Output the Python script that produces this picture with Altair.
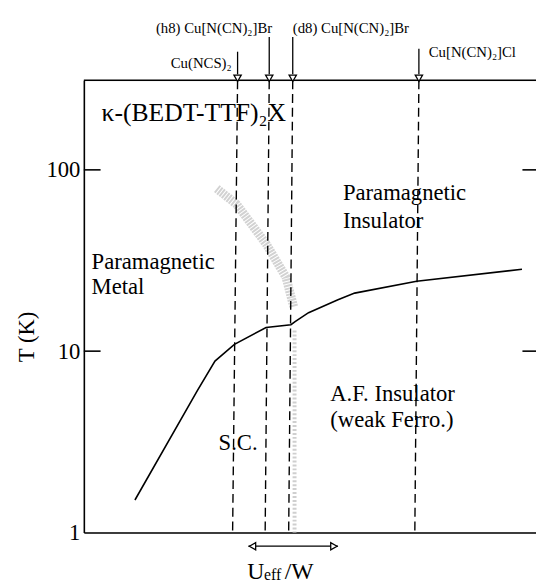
import altair as alt
import pandas as pd

# ---------------- data ----------------
# T_N / T_c boundary (x: Ueff/W in arbitrary units 0..100, T in K)
curve_u = [11.3, 25.1, 29.0, 33.3, 40.3, 45.8, 46.8, 49.7, 56.2, 59.9, 73.6, 96.9]
curve_T = [1.51, 6.06, 8.82, 10.9, 13.5, 14.0, 14.6, 16.3, 19.2, 20.9, 24.3, 28.3]
# metal-insulator crossover (grey hatched band)
band_u = [29.4, 33.8, 40.3, 44.7, 46.4]
band_T = [78.8, 64.5, 39.1, 25.6, 17.6]
low_band_u = [46.6, 46.6]
low_band_T = [13.0, 1.0]
# salts (dashed lines)
salts = ["Cu(NCS)₂", "(h8) Cu[N(CN)₂]Br", "(d8) Cu[N(CN)₂]Br", "Cu[N(CN)₂]Cl"]
salt_u_top = [34.0, 41.0, 46.2, 74.1]
salt_u_bot = [32.9, 40.1, 45.3, 73.2]
# phase labels
phase_text = ["κ-(BEDT-TTF)₂X", "Paramagnetic", "Insulator", "Paramagnetic", "Metal",
              "A.F. Insulator", "(weak Ferro.)", "S.C."]
phase_u = [3.9, 57.3, 57.3, 1.7, 1.7, 54.5, 54.5, 29.8]
phase_T = [206, 74.1, 52.2, 30.9, 22.6, 5.77, 4.17, 3.12]
y_ticks = [1, 10, 100]
inner_ticks = [10, 100]
T_MIN, T_MAX = 1, 312
U_MIN, U_MAX = 0, 100
arrow_u = [36.4, 56.2]

# ---------------- layout / style ----------------
W, H = 459, 459
FONT = "Liberation Serif, Times New Roman, DejaVu Serif, serif"
salt_arrow_top = [-29, -44, -44, -32]
salt_label_y = [-17, -53, -53, -29]
salt_label_align = ["right", "right", "left", "left"]
salt_label_dx = [-6, 3, 0, 10]

xs = alt.Scale(domain=[U_MIN, U_MAX], nice=False, zero=False)
ys = alt.Scale(type="log", domain=[T_MIN, T_MAX], nice=False)

curve_df = pd.DataFrame({"u": curve_u, "T": curve_T})
band_df = pd.DataFrame({"u": band_u, "T": band_T})
low_df = pd.DataFrame({"u": low_band_u, "T": low_band_T})
salt_df = pd.DataFrame({"salt": salts, "ut": salt_u_top, "ub": salt_u_bot})
phase_df = pd.DataFrame({"text": phase_text, "u": phase_u, "T": phase_T})

layers = []

band = alt.Chart(band_df).mark_line(color="#d2d2d2", strokeWidth=9, strokeDash=[2, 1]).encode(
    x=alt.X("u:Q", scale=xs, axis=alt.Axis(labels=False, ticks=False, title=None, grid=False,
                                           domainColor="black", domainWidth=1.6)),
    y=alt.Y("T:Q", scale=ys, axis=alt.Axis(values=y_ticks, format="d", ticks=False, grid=False,
                                           labelFont=FONT, labelFontSize=23, labelColor="black",
                                           labelPadding=4, domainColor="black", domainWidth=1.6,
                                           title="T (K)", titleFont=FONT, titleFontSize=23,
                                           titleFontWeight="normal", titleColor="black",
                                           titleX=-58, titleY=260, titleAngle=270,
                                           titleBaseline="middle", titleAlign="center")),
    order=alt.Order("u:Q"),
)
layers.append(band)

low = alt.Chart(low_df).mark_line(color="#cfcfcf", strokeWidth=4, strokeDash=[2, 2]).encode(
    x=alt.X("u:Q", scale=xs), y=alt.Y("T:Q", scale=ys))
layers.append(low)

# dashed salt lines
dashed = alt.Chart(salt_df).mark_rule(color="black", strokeWidth=1.4, strokeDash=[9, 5]).encode(
    x=alt.X("ut:Q", scale=xs), x2="ub:Q", y=alt.value(0), y2=alt.value(H))
layers.append(dashed)

# T_N / T_c curve
curve = alt.Chart(curve_df).mark_line(color="black", strokeWidth=1.6).encode(
    x=alt.X("u:Q", scale=xs), y=alt.Y("T:Q", scale=ys), order=alt.Order("u:Q"))
layers.append(curve)

# top border
layers.append(alt.Chart(pd.DataFrame({"a": [0]})).mark_rule(color="black", strokeWidth=1.6).encode(
    x=alt.datum(U_MIN, scale=xs), x2=alt.datum(U_MAX), y=alt.value(0)))

# inner ticks left and right
tick_df = pd.DataFrame({"T": inner_ticks})
layers.append(alt.Chart(tick_df).mark_rule(color="black", strokeWidth=1.6).encode(
    y=alt.Y("T:Q", scale=ys), x=alt.datum(0.0, scale=xs), x2=alt.datum(3.7)))
layers.append(alt.Chart(tick_df).mark_rule(color="black", strokeWidth=1.6).encode(
    y=alt.Y("T:Q", scale=ys), x=alt.datum(97.0, scale=xs), x2=alt.datum(100.0)))

# arrows and labels at the top
for i, s in enumerate(salts):
    one = pd.DataFrame({"salt": [s], "u": [salt_u_top[i]]})
    layers.append(alt.Chart(one).mark_rule(color="black", strokeWidth=1.3).encode(
        x=alt.X("u:Q", scale=xs), y=alt.value(salt_arrow_top[i]), y2=alt.value(-6)))
    layers.append(alt.Chart(one).mark_point(shape="triangle-down", size=55, filled=True,
                                            fill="white", stroke="black", strokeWidth=1.3,
                                            opacity=1).encode(
        x=alt.X("u:Q", scale=xs), y=alt.value(-2)))
    layers.append(alt.Chart(one).mark_text(font=FONT, fontSize=15, color="black",
                                           align=salt_label_align[i], baseline="middle",
                                           dx=salt_label_dx[i]).encode(
        x=alt.X("u:Q", scale=xs), y=alt.value(salt_label_y[i]), text="salt:N"))

# phase labels
layers.append(alt.Chart(phase_df.iloc[[0]]).mark_text(font=FONT, fontSize=26, color="black",
                                                      align="left", baseline="middle").encode(
    x=alt.X("u:Q", scale=xs), y=alt.Y("T:Q", scale=ys), text="text:N"))
layers.append(alt.Chart(phase_df.iloc[1:]).mark_text(font=FONT, fontSize=23, color="black",
                                                     align="left", baseline="middle").encode(
    x=alt.X("u:Q", scale=xs), y=alt.Y("T:Q", scale=ys), text="text:N"))

# Ueff/W double arrow
layers.append(alt.Chart(pd.DataFrame({"a": [0]})).mark_rule(color="black", strokeWidth=1.3).encode(
    x=alt.datum(arrow_u[0], scale=xs), x2=alt.datum(arrow_u[1]), y=alt.value(H + 14)))
layers.append(alt.Chart(pd.DataFrame({"u": [arrow_u[0] + 0.9]})).mark_point(
    shape="triangle-left", size=55, filled=True, fill="white", stroke="black", strokeWidth=1.3,
    opacity=1).encode(x=alt.X("u:Q", scale=xs), y=alt.value(H + 14)))
layers.append(alt.Chart(pd.DataFrame({"u": [arrow_u[1] - 0.9]})).mark_point(
    shape="triangle-right", size=55, filled=True, fill="white", stroke="black", strokeWidth=1.3,
    opacity=1).encode(x=alt.X("u:Q", scale=xs), y=alt.value(H + 14)))

# Ueff/W label
lab = [("U", 24, 166, 0), ("eff", 16, 183, 3), ("/W", 24, 204, 0)]
for t, fs, px, dy in lab:
    layers.append(alt.Chart(pd.DataFrame({"t": [t]})).mark_text(
        font=FONT, fontSize=fs, color="black", align="left", baseline="middle", dy=dy).encode(
        x=alt.value(px), y=alt.value(H + 40), text="t:N"))

chart = alt.layer(*layers).properties(
    width=W, height=H,
    autosize=alt.AutoSizeParams(type="none"),
    padding={"left": 77, "top": 69, "right": 0, "bottom": 50},
).configure_view(stroke=None).configure(background="white")

chart.save("out.html", embed_options={"renderer": "svg", "actions": False})
